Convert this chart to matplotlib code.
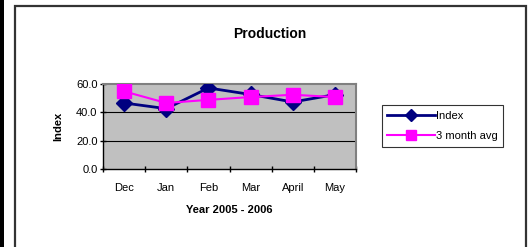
import matplotlib
matplotlib.use("Agg")
import matplotlib.pyplot as plt
from matplotlib.patches import Rectangle

months = ["Dec", "Jan", "Feb", "Mar", "April", "May"]
index_vals = [46.6, 42.6, 57.2, 52.6, 47.3, 52.5]
avg_vals = [54.8, 46.6, 48.8, 50.8, 52.4, 50.8]
yticks = [0, 20, 40, 60]

W, H = 532, 247
plt.rcParams["font.family"] = ["Liberation Sans", "DejaVu Sans"]

fig = plt.figure(figsize=(W / 100, H / 100), dpi=100, facecolor="white")

# black strip on the left, chart frame
fig.add_artist(Rectangle((0, 0), 4 / W, 1, transform=fig.transFigure,
                         facecolor="black", edgecolor="none"))
fig.add_artist(Rectangle((14.5 / W, -0.1), (525.5 - 14.5) / W, (H - 5.5) / H + 0.1,
                         transform=fig.transFigure, facecolor="none",
                         edgecolor="#333333", linewidth=1.6))

# plot area: x 103..356, y 84..169 (pixels from top)
ax = fig.add_axes([103 / W, 1 - 169 / H, (356 - 103) / W, (169 - 84) / H])
ax.set_facecolor("#C0C0C0")
x = range(len(months))
ax.plot(x, index_vals, color="#000080", lw=2, marker="D", ms=8.5,
        label="Index", zorder=3)
ax.plot(x, avg_vals, color="#FF00FF", lw=1.5, marker="s", ms=10.5,
        label="3 month avg", zorder=4)

ax.set_xlim(-0.5, len(months) - 0.5)
ax.set_ylim(0, 60)
ax.set_yticks(yticks)
ax.set_yticklabels([f"{v:.1f}" for v in yticks], fontsize=8)
ax.set_xticks([i - 0.5 for i in range(len(months) + 1)], minor=False)
ax.set_xticklabels([])
ax.set_xticks(list(x), minor=True)
ax.set_xticklabels(months, minor=True, fontsize=8)
ax.tick_params(axis="x", which="minor", length=0, pad=10)
ax.tick_params(axis="x", which="major", length=4, direction="inout", width=1)
ax.tick_params(axis="y", length=4, direction="inout", width=1, pad=2)
for v in yticks[1:-1]:
    ax.axhline(v, color="black", lw=0.8, zorder=1)
for s in ("left", "bottom"):
    ax.spines[s].set_color("black")
    ax.spines[s].set_linewidth(1)
for s in ("top", "right"):
    ax.spines[s].set_color("#808080")
    ax.spines[s].set_linewidth(1.5)

ax.set_ylabel("Index", fontsize=8, fontweight="bold", labelpad=9)
ax.set_xlabel("Year 2005 - 2006", fontsize=8, fontweight="bold", labelpad=9)

fig.text(270 / W, 1 - 34 / H, "Production", ha="center", va="center",
         fontsize=10, fontweight="bold")

leg = fig.legend(loc="center", bbox_to_anchor=(442.5 / W, 1 - 126 / H),
                 fontsize=8, frameon=True, fancybox=False, edgecolor="black",
                 handlelength=4.3, borderpad=0.5, labelspacing=0.9,
                 handletextpad=0.1, markerscale=0.7)
leg.get_frame().set_linewidth(0.8)

fig.savefig("out.png", dpi=100, facecolor="white")
